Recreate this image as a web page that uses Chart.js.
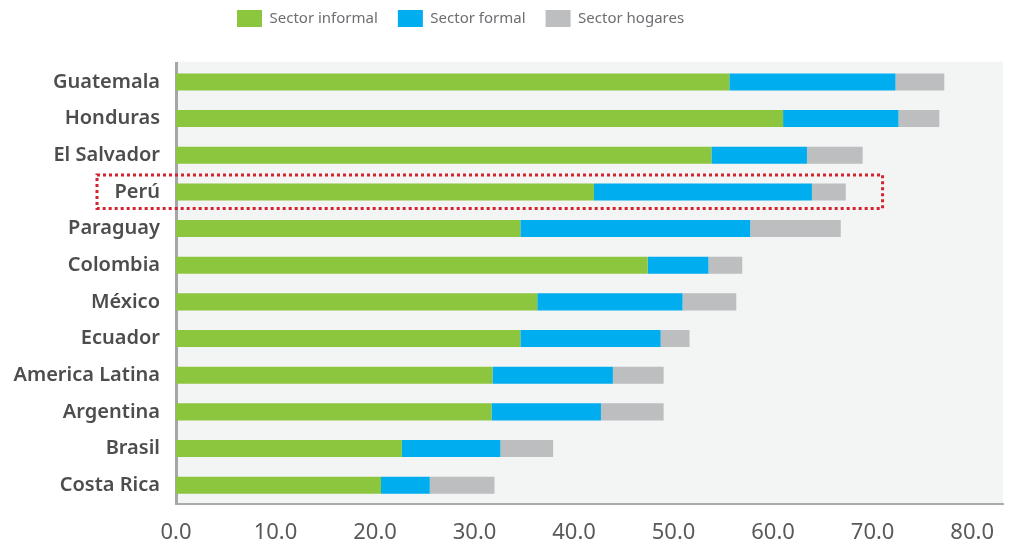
<!DOCTYPE html>
<html lang="es">
<head>
<meta charset="UTF-8">
<title>Sectores</title>
<script src="https://cdn.jsdelivr.net/npm/chart.js"></script>
<style>
  html, body { margin: 0; padding: 0; background: #fff; }
  #wrap { width: 1016px; height: 545px; }
</style>
</head>
<body>
<div id="wrap"><canvas id="chart" width="1016" height="545"></canvas></div>
<script>
// datos
const countries = ["Guatemala", "Honduras", "El Salvador", "Perú", "Paraguay", "Colombia",
  "México", "Ecuador", "America Latina", "Argentina", "Brasil", "Costa Rica"];
const informal = [55.6, 61.0, 53.8, 42.0, 34.6, 47.4, 36.3, 34.6, 31.8, 31.7, 22.7, 20.6];
const formal   = [16.7, 11.6,  9.6, 21.9, 23.1,  6.1, 14.6, 14.1, 12.1, 11.0,  9.9,  4.9];
const hogares  = [ 4.9,  4.1,  5.6,  3.4,  9.1,  3.4,  5.4,  2.9,  5.1,  6.3,  5.3,  6.5];
const xTicks = [0, 10, 20, 30, 40, 50, 60, 70, 80];
const highlight = "Perú";

// fondo gris del area del grafico
const plotBg = {
  id: 'plotBg',
  beforeDraw(chart) {
    const { ctx, chartArea: a } = chart;
    ctx.save();
    ctx.fillStyle = '#f3f4f4';
    ctx.fillRect(a.left, a.top - 2, a.right - a.left, a.bottom - a.top + 4);
    ctx.restore();
  }
};

// leyenda arriba a la izquierda, como en el original
const moveLegend = {
  id: 'moveLegend',
  afterLayout(chart) {
    const lg = chart.legend;
    const h = lg.bottom - lg.top;
    lg.top = -10;
    lg.bottom = lg.top + h;
    lg.left = 217;
  }
};

// recuadro punteado rojo alrededor de Perú
const dottedBox = {
  id: 'dottedBox',
  afterDatasetsDraw(chart) {
    const { ctx, chartArea: a, scales } = chart;
    const yc = scales.y.getPixelForValue(countries.indexOf(highlight));
    const x0 = a.left - 79;
    const x1 = scales.x.getPixelForValue(71.0);
    ctx.save();
    ctx.strokeStyle = '#d2232f';
    ctx.lineWidth = 3;
    ctx.setLineDash([3, 3]);
    ctx.strokeRect(x0, yc - 17, x1 - x0, 33.5);
    ctx.restore();
  }
};

new Chart(document.getElementById('chart'), {
  type: 'bar',
  data: {
    labels: countries,
    datasets: [
      { label: 'Sector informal', data: informal, backgroundColor: '#8cc63f' },
      { label: 'Sector formal', data: formal, backgroundColor: '#00adee' },
      { label: 'Sector hogares', data: hogares, backgroundColor: '#bdbec0' }
    ]
  },
  options: {
    indexAxis: 'y',
    responsive: false,
    animation: false,
    layout: { padding: { left: 0, right: 13, top: 16.6, bottom: 0 } },
    datasets: { bar: { barPercentage: 0.93, categoryPercentage: 0.5 } },
    scales: {
      x: {
        stacked: true,
        min: 0,
        max: 83.1,
        afterBuildTicks: s => { s.ticks = xTicks.map(v => ({ value: v })); },
        afterFit: s => { s.height = 41.5; },
        grid: { display: false },
        border: { color: '#a9aaab', width: 2 },
        ticks: {
          padding: 8,
          color: '#58595b',
          font: { family: 'Noto Sans', size: 22 },
          callback: v => v.toFixed(1)
        }
      },
      y: {
        stacked: true,
        afterFit: s => { s.width = 176; },
        grid: { display: false },
        border: { color: '#a5a6a8', width: 3 },
        ticks: {
          padding: 8,
          color: '#4d4d4f',
          font: { family: 'Noto Sans', size: 20, weight: '600' }
        }
      }
    },
    plugins: {
      legend: {
        position: 'top',
        align: 'start',
        labels: {
          boxWidth: 25,
          boxHeight: 17,
          padding: 20,
          color: '#6d6e71',
          font: { family: 'Noto Sans', size: 15 }
        }
      },
      tooltip: { enabled: false }
    }
  },
  plugins: [plotBg, moveLegend, dottedBox]
});
</script>
</body>
</html>
